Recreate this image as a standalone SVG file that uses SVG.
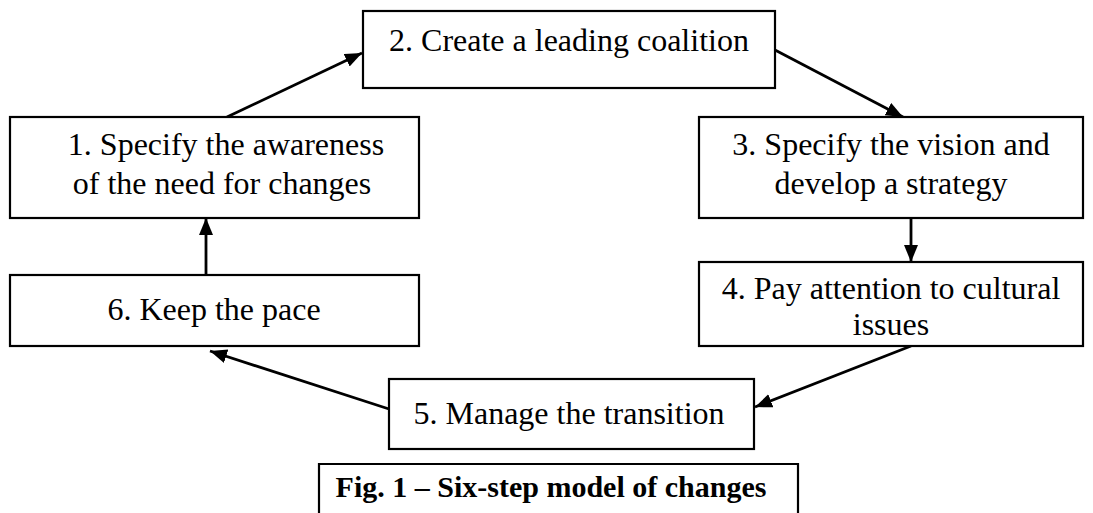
<svg xmlns="http://www.w3.org/2000/svg" width="1093" height="513" viewBox="0 0 1093 513">
<style>
.box{fill:#fff;stroke:#000;stroke-width:2.2}
.t{font-family:"Liberation Serif","Times New Roman",serif;font-size:32px;fill:#000;text-anchor:middle}
.cap{font-family:"Liberation Serif","Times New Roman",serif;font-size:30px;font-weight:bold;fill:#000;text-anchor:middle}
.c{stroke:#000;stroke-width:2.8;fill:none;marker-end:url(#ah)}
</style>
<defs>
<marker id="ah" markerUnits="userSpaceOnUse" markerWidth="20" markerHeight="16" refX="17" refY="7" orient="auto">
<path d="M0,0 L17,7 L0,14 z" fill="#000"/>
</marker>
</defs>
<rect width="1093" height="513" fill="#fff"/>
<g id="connectors">
<line class="c" x1="227" y1="117" x2="362" y2="53"/>
<line class="c" x1="775" y1="50" x2="903" y2="117"/>
<line class="c" x1="911" y1="218" x2="911" y2="262"/>
<line class="c" x1="911" y1="346" x2="755" y2="407"/>
<line class="c" x1="389" y1="409" x2="210" y2="351"/>
<line class="c" x1="206" y1="275" x2="206" y2="218"/>
</g>
<g id="n2"><rect class="box" x="363" y="11" width="412" height="77"/><text class="t" x="569" y="51">2. Create a leading coalition</text></g>
<g id="n1"><rect class="box" x="10" y="117" width="409" height="101"/><text class="t" x="226" y="155">1. Specify the awareness</text><text class="t" x="222" y="194">of the need for changes</text></g>
<g id="n3"><rect class="box" x="699" y="117" width="384" height="101"/><text class="t" x="891" y="155">3. Specify the vision and</text><text class="t" x="891" y="194">develop a strategy</text></g>
<g id="n4"><rect class="box" x="699" y="262" width="384" height="84"/><text class="t" x="891" y="299">4. Pay attention to cultural</text><text class="t" x="891" y="335">issues</text></g>
<g id="n6"><rect class="box" x="10" y="275" width="409" height="71"/><text class="t" x="214" y="320">6. Keep the pace</text></g>
<g id="n5"><rect class="box" x="389" y="379" width="365" height="70"/><text class="t" x="569" y="424">5. Manage the transition</text></g>
<g id="caption"><path class="box" d="M319,514 V464 H798 V514"/><text class="cap" x="551" y="497">Fig. 1 – Six-step model of changes</text></g>
</svg>
